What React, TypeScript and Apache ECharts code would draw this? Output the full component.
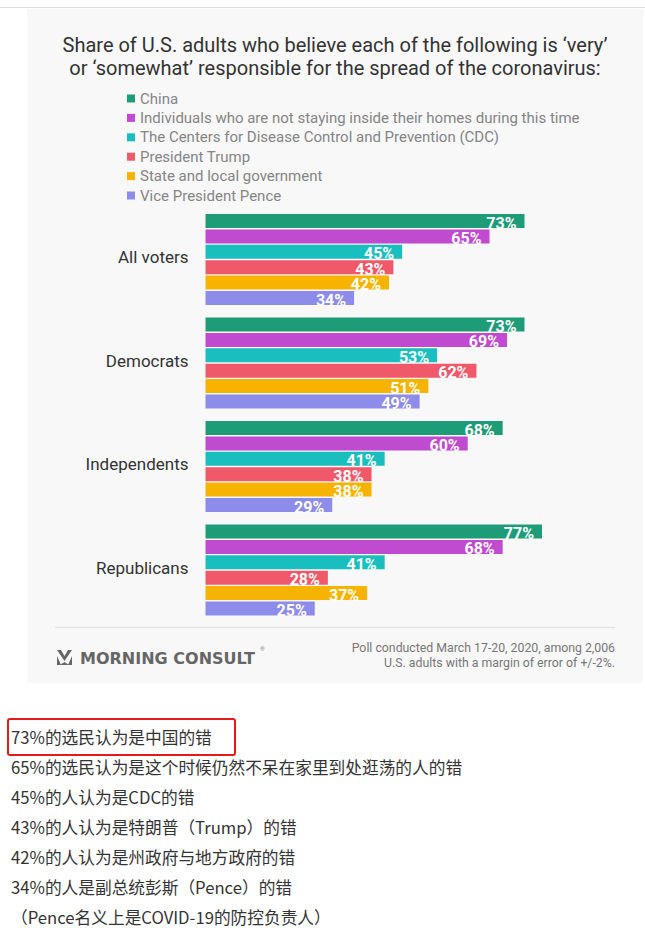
import React, { useEffect, useRef } from "react";
import * as echarts from "echarts";

const groups = ["All voters", "Democrats", "Independents", "Republicans"];
const seriesNames = [
  "China",
  "Individuals who are not staying inside their homes during this time",
  "The Centers for Disease Control and Prevention (CDC)",
  "President Trump",
  "State and local government",
  "Vice President Pence",
];
const colors = ["#1e9c78", "#c04ad0", "#19bfbf", "#f0596a", "#f6b400", "#8e8cea"];
const china = [73, 73, 68, 77];
const individuals = [65, 69, 60, 68];
const cdc = [45, 53, 41, 41];
const trump = [43, 62, 38, 28];
const stateLocal = [42, 51, 38, 37];
const pence = [34, 49, 29, 25];
const values = [china, individuals, cdc, trump, stateLocal, pence];

const titleLines = [
  "Share of U.S. adults who believe each of the following is \u2018very\u2019",
  "or \u2018somewhat\u2019 responsible for the spread of the coronavirus:",
];
const footnoteLines = [
  "Poll conducted March 17-20, 2020, among 2,006",
  "U.S. adults with a margin of error of +/-2%.",
];
const chineseLines = [
  "73%的选民认为是中国的错",
  "65%的选民认为是这个时候仍然不呆在家里到处逛荡的人的错",
  "45%的人认为是CDC的错",
  "43%的人认为是特朗普（Trump）的错",
  "42%的人认为是州政府与地方政府的错",
  "34%的人是副总统彭斯（Pence）的错",
  "（Pence名义上是COVID-19的防控负责人）",
];

export default function App() {
  const ref = useRef<HTMLDivElement>(null);
  useEffect(() => {
    if (!ref.current) return;
    const chart = echarts.init(ref.current, undefined, { renderer: "svg" });
    const graphic: any[] = [
      { type: "line", z: -10, shape: { x1: 0, y1: 7.5, x2: 645, y2: 7.5 }, style: { stroke: "#dddddd", lineWidth: 1 } },
      { type: "rect", z: -10, shape: { x: 27, y: 9, width: 616, height: 674 }, style: { fill: "#f8f8f8" } },
      ...titleLines.map((t, i) => ({
        type: "text",
        x: 335,
        y: 44.5 + i * 23,
        style: { text: t, fill: "#333333", font: "20px Roboto", align: "center", verticalAlign: "middle" },
      })),
      { type: "line", shape: { x1: 55, y1: 627.5, x2: 615, y2: 627.5 }, style: { stroke: "#e3e3e3", lineWidth: 1.5 } },
      // logo
      { type: "polygon", shape: { points: [[57, 650], [61, 650], [64.5, 656], [68, 650], [72, 650], [64.5, 661]] }, style: { fill: "#666666" } },
      { type: "polygon", shape: { points: [[57, 656], [61, 665], [57, 665]] }, style: { fill: "#666666" } },
      { type: "polygon", shape: { points: [[72, 656], [68, 665], [72, 665]] }, style: { fill: "#666666" } },
      { type: "polygon", shape: { points: [[60, 665], [64.5, 662], [69, 665]] }, style: { fill: "#666666" } },
      {
        type: "text",
        x: 80,
        y: 658,
        style: { text: "MORNING CONSULT", fill: "#666666", font: "bold 16px 'DejaVu Sans'", verticalAlign: "middle" },
      },
      { type: "text", x: 260, y: 648, style: { text: "®", fill: "#888888", font: "6px Roboto", verticalAlign: "middle" } },
      ...footnoteLines.map((t, i) => ({
        type: "text",
        x: 615,
        y: 648 + i * 15,
        style: { text: t, fill: "#777777", font: "12.3px Roboto", align: "right", verticalAlign: "middle" },
      })),
      { type: "rect", shape: { x: 8, y: 719, width: 227, height: 36, r: 2 }, style: { fill: "none", stroke: "#e41b1b", lineWidth: 2 } },
      ...chineseLines.map((t, i) => ({
        type: "text",
        x: 11,
        y: 737 + i * 30,
        style: { text: t, fill: "#333333", font: "16.7px 'Noto Sans CJK SC'", verticalAlign: "middle" },
      })),
    ];
    chart.setOption({
      animation: false,
      color: colors,
      textStyle: { fontFamily: "Roboto" },
      graphic,
      legend: {
        orient: "vertical",
        left: 122,
        top: 86,
        itemWidth: 8,
        itemHeight: 8,
        itemGap: 4.4,
        icon: "rect",
        textStyle: { color: "#858585", fontSize: 15, lineHeight: 15, fontFamily: "Roboto" },
        data: seriesNames,
      },
      grid: { left: 205.5, top: 207.75, width: 437, height: 414, containLabel: false },
      xAxis: { type: "value", min: 0, max: 100, show: false },
      yAxis: {
        type: "category",
        data: groups,
        inverse: true,
        axisLine: { show: false },
        axisTick: { show: false },
        axisLabel: {
          color: "#333333",
          fontSize: 17,
          margin: 17,
          fontFamily: "Roboto",
          formatter: (v: string) => `{g|${v}}`,
          rich: { g: { color: "#333333", fontSize: 17, fontFamily: "Roboto", padding: [0, 0, 5, 0] } },
        },
      },
      series: seriesNames.map((name, i) => ({
        name,
        type: "bar",
        data: values[i],
        barWidth: 14,
        barGap: "10%",
        label: {
          show: true,
          position: "insideRight",
          distance: 8,
          formatter: "{c}%",
          color: "#ffffff",
          fontSize: 16,
          lineHeight: 14,
          fontWeight: "bold",
          fontFamily: "Roboto",
          offset: [0, 2],
        },
      })),
    });
    return () => chart.dispose();
  }, []);
  return <div ref={ref} style={{ position: "absolute", left: 0, top: 0, width: 645, height: 941, background: "#ffffff" }} />;
}
